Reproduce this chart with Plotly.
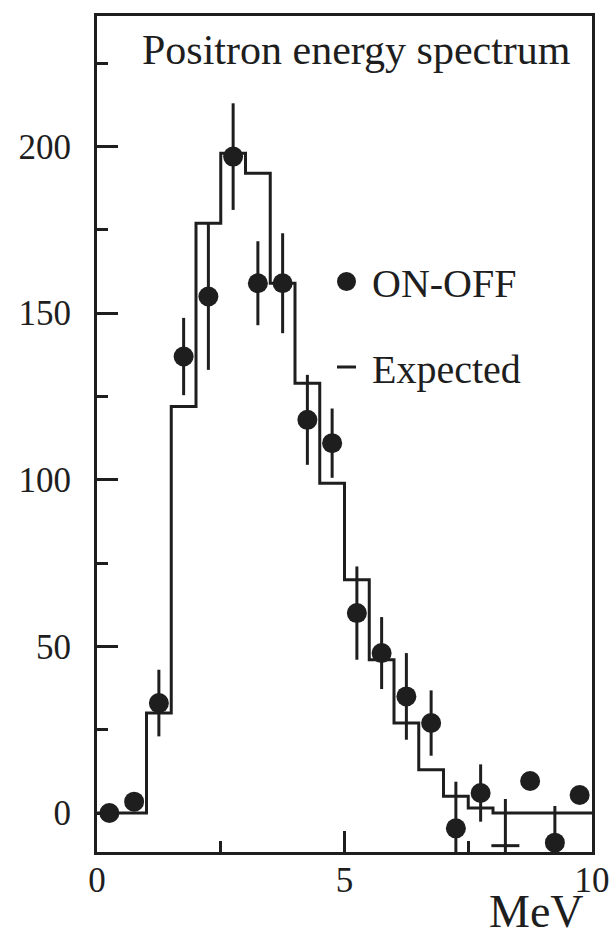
import plotly.graph_objects as go

# Bin edges (MeV) and expected positron counts per 0.5 MeV bin
bin_edges = [0.0, 0.5, 1.0, 1.5, 2.0, 2.5, 3.0, 3.5, 4.0, 4.5, 5.0,
             5.5, 6.0, 6.5, 7.0, 7.5, 8.0, 8.5, 9.0, 9.5, 10.0]
expected = [0, 0, 30, 122, 177, 198, 192, 159, 129, 99,
            70, 46, 27, 13, 5, 1.5, 0, 0, 0, 0]

# Measured reactor ON minus OFF counts at bin centres, with errors
energy = [0.25, 0.75, 1.25, 1.75, 2.25, 2.75, 3.25, 3.75, 4.25, 4.75,
          5.25, 5.75, 6.25, 6.75, 7.25, 7.75, 8.25, 8.75, 9.25, 9.75]
on_off = [0, 3.4, 33, 137, 155, 197, 159, 159, 118, 111,
          60, 48, 35, 27, -4.6, 6, -9.8, 9.6, -8.9, 5.4]
on_off_err = [0, 0, 10, 11.6, 22, 16, 12.6, 15, 13.5, 10.4,
              14, 10.8, 13, 9.8, 14, 8.6, 14, 0, 11, 0]
# one point is shown as a bar marker instead of a dot
point_symbol = ["circle"] * 16 + ["line-ew"] + ["circle"] * 3
point_outline = [0] * 16 + [3] + [0] * 3

x_ticks = [0, 5, 10]
y_ticks = [0, 50, 100, 150, 200]

INK = "#1e1e1e"
SERIF = "Liberation Serif, Times New Roman, serif"

fig = go.Figure()

# Expected spectrum as a step histogram
fig.add_trace(go.Scatter(
    x=bin_edges,
    y=expected + [expected[-1]],
    mode="lines",
    line=dict(shape="hv", color=INK, width=3),
    showlegend=False,
    hoverinfo="skip",
))

# ON-OFF data points with error bars
fig.add_trace(go.Scatter(
    x=energy,
    y=on_off,
    mode="markers",
    marker=dict(
        symbol=point_symbol,
        size=20,
        opacity=1,
        color=INK,
        line=dict(color=INK, width=point_outline),
    ),
    error_y=dict(type="data", array=on_off_err, visible=True,
                 color=INK, thickness=3, width=0),
    showlegend=False,
    cliponaxis=True,
))

# plot area in pixels: x 97..592, y 16..852
L, R, T, B = 97, 20, 16, 85
W, H = 612, 937
pw, ph = W - L - R, H - T - B


def px(xp):
    return (xp - L) / pw


def py(yp):
    return (H - B - yp) / ph


annotations = [
    dict(text="Positron energy spectrum", x=px(140), y=py(50),
         xanchor="left", yanchor="middle", font=dict(size=42)),
    dict(text="ON-OFF", x=px(370), y=py(283),
         xanchor="left", yanchor="middle", font=dict(size=40)),
    dict(text="Expected", x=px(370), y=py(369),
         xanchor="left", yanchor="middle", font=dict(size=40)),
    dict(text="MeV", x=px(586), y=py(939),
         xanchor="right", yanchor="bottom", font=dict(size=46)),
]
for a in annotations:
    a.update(xref="paper", yref="paper", showarrow=False)
    a["font"].update(family=SERIF, color=INK)

shapes = [
    # legend dot
    dict(type="circle", xref="paper", yref="paper",
         xsizemode="pixel", ysizemode="pixel",
         xanchor=px(346.5), yanchor=py(281.5),
         x0=-9.5, x1=9.5, y0=-9.5, y1=9.5,
         fillcolor=INK, line=dict(width=0)),
    # legend dash
    dict(type="line", xref="paper", yref="paper",
         x0=px(337), x1=px(356), y0=py(367), y1=py(367),
         line=dict(color=INK, width=3)),
]

axis_common = dict(
    showline=True, linecolor=INK, linewidth=3, mirror=True,
    ticks="inside", tickcolor=INK, tickwidth=3, ticklen=21,
    showgrid=False, zeroline=False, automargin=False,
    tickfont=dict(family=SERIF, size=35, color=INK),
)

fig.update_layout(
    width=W, height=H,
    margin=dict(l=L, r=R, t=T, b=B, pad=0, autoexpand=False),
    paper_bgcolor="white", plot_bgcolor="white",
    xaxis=dict(range=[0, 10], tickvals=x_ticks,
               ticktext=[str(v) for v in x_ticks],
               minor=dict(tickvals=[2.5, 7.5], ticks="inside",
                          ticklen=11, tickwidth=3, tickcolor=INK),
               ticklabelstandoff=-5,
               **axis_common),
    yaxis=dict(range=[-11.7, 239.2], tickvals=y_ticks,
               ticktext=[str(v) for v in y_ticks],
               minor=dict(tickvals=[25, 75, 125, 175, 225], ticks="inside",
                          ticklen=11, tickwidth=3, tickcolor=INK),
               ticklabelstandoff=16,
               **axis_common),
    annotations=annotations,
    shapes=shapes,
)

fig.write_html("out.html")
